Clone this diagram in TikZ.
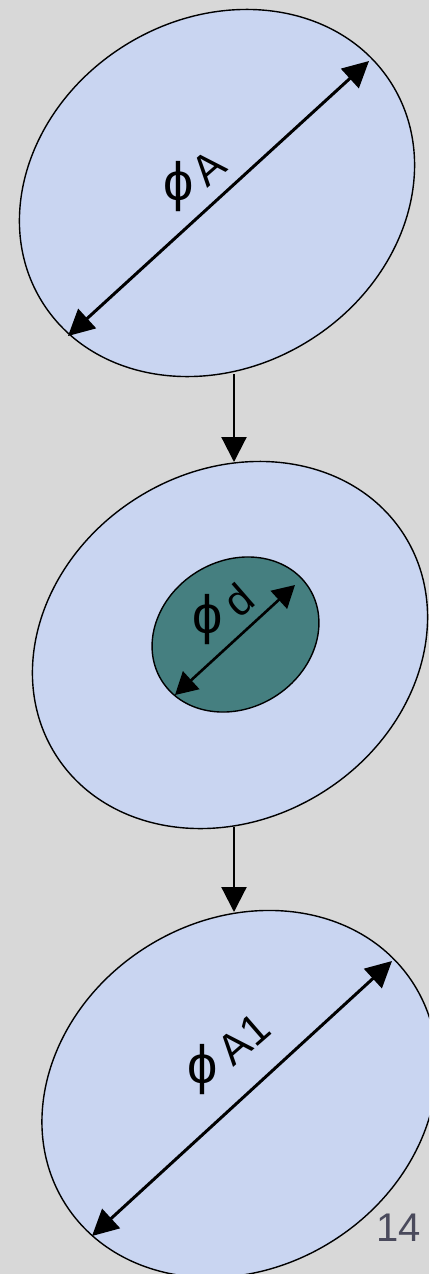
\documentclass[tikz,border=0pt]{standalone}
\usepackage{fontspec}
\usepackage{graphicx}
\setmainfont{Liberation Sans}
\usetikzlibrary{shapes.geometric,arrows.meta}
\definecolor{bgclr}{HTML}{D8D8D8}
\definecolor{discclr}{HTML}{C9D5F1}
\definecolor{coreclr}{HTML}{457F80}
\definecolor{numclr}{HTML}{4A4A5C}
\newcommand{\diamsym}{\scalebox{1.35}{ϕ}}
\begin{document}
\begin{tikzpicture}[x=1pt,y=-1pt,
  disc/.style={ellipse, draw=black, line width=1.4pt, fill=discclr,
    minimum width=412pt, minimum height=348pt, inner sep=0pt, outer sep=0pt, rotate=32},
  core/.style={ellipse, draw=black, line width=1.4pt, fill=coreclr,
    minimum width=174pt, minimum height=147pt, inner sep=0pt, outer sep=0pt, rotate=32},
  dim/.style={line width=3pt, {Triangle[length=26pt,width=26pt]}-{Triangle[length=26pt,width=26pt]}},
  dimsmall/.style={line width=2.6pt, {Triangle[length=22pt,width=24pt]}-{Triangle[length=22pt,width=24pt]}},
  conn/.style={line width=2.2pt, -{Triangle[length=25pt,width=25pt]}},
  lbl/.style={font=\fontsize{43}{48}\selectfont, inner sep=0pt, rotate=41},
  philbl/.style={font=\fontsize{40}{46}\selectfont, inner sep=0pt}
]
\useasboundingbox (0,0) rectangle (429,1274);
\clip (0,0) rectangle (429,1274);
\fill[bgclr] (0,0) rectangle (429,1274);

% discs
\node[disc] (e1) at (217,193) {};
\node[disc] (e2) at (230,645) {};
\node[disc] (e3) at (239.5,1094) {};
\node[core] (c2) at (235.5,634.5) {};

% diameter arrow ends (on the borders)
\coordinate (e1a) at (68,336);
\coordinate (e1b) at (369,61);
\coordinate (c2a) at (175,695);
\coordinate (c2b) at (295,585);
\coordinate (e3a) at (92,1236);
\coordinate (e3b) at (392,961);
\draw[dim] (e1a) -- (e1b);
\draw[dimsmall] (c2a) -- (c2b);
\draw[dim] (e3a) -- (e3b);

% labels
\node[philbl] (phiA) at (179,187) {\diamsym};
\node[lbl] (tA) at (209,168) {A};
\node[philbl] (phid) at (208,620) {\diamsym};
\node[lbl] (td) at (238,600) {d};
\node[philbl] (phiA1) at (203,1070) {\diamsym};
\node[lbl] (tA1) at (244,1039) {A1};

% connectors
\coordinate (a1) at (234,374);
\coordinate (b1) at (234,462);
\coordinate (a2) at (234,827);
\coordinate (b2) at (234,912);
\draw[conn] (a1) -- (b1);
\draw[conn] (a2) -- (b2);

% page number
\node[font=\fontsize{40}{48}\selectfont, text=numclr, inner sep=0pt] (pg) at (398.5,1228) {14};
\end{tikzpicture}
\end{document}
